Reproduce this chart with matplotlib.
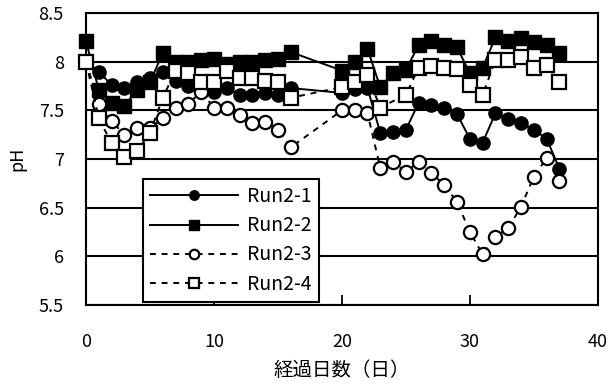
import matplotlib
matplotlib.use("Agg")
import numpy as np
from matplotlib import pyplot as plt

plt.rcParams['font.family'] = ['Noto Sans CJK JP', 'DejaVu Sans']

# --- data ---
days_r1 = [0, 1, 2, 3, 4, 5, 6, 7, 8, 9, 10, 11, 12, 13, 14, 15, 16,
           20, 21, 22, 23, 24, 25, 26, 27, 28, 29, 30, 31, 32, 33, 34, 35, 36, 37]
ph_r1 = [8.0, 7.9, 7.76, 7.73, 7.79, 7.83, 7.9, 7.8, 7.75, 7.7, 7.69, 7.73, 7.66, 7.66, 7.68, 7.66, 7.73,
         7.68, 7.72, 7.73, 7.27, 7.28, 7.3, 7.58, 7.56, 7.52, 7.46, 7.21, 7.17, 7.47, 7.41, 7.37, 7.3, 7.21, 6.9]

days_r2 = [0, 1, 2, 3, 4, 5, 6, 7, 8, 9, 10, 11, 12, 13, 14, 15, 16,
           20, 21, 22, 23, 24, 25, 26, 27, 28, 29, 30, 31, 32, 33, 34, 35, 36, 37]
ph_r2 = [8.21, 7.71, 7.58, 7.55, 7.71, 7.79, 8.09, 8.0, 8.0, 8.02, 8.03, 7.98, 8.0, 8.0, 8.02, 8.03, 8.1,
         7.91, 8.0, 8.13, 7.74, 7.88, 7.92, 8.17, 8.21, 8.17, 8.15, 7.88, 7.94, 8.25, 8.21, 8.24, 8.2, 8.17, 8.09]

days_r3 = [0, 1, 2, 3, 4, 5, 6, 7, 8, 9, 10, 11, 12, 13, 14, 15, 16,
           20, 21, 22, 23, 24, 25, 26, 27, 28, 29, 30, 31, 32, 33, 34, 35, 36, 37]
ph_r3 = [8.0, 7.57, 7.39, 7.25, 7.32, 7.32, 7.42, 7.53, 7.57, 7.69, 7.53, 7.53, 7.45, 7.37, 7.38, 7.3, 7.12,
         7.5, 7.5, 7.47, 6.91, 6.97, 6.87, 6.97, 6.86, 6.73, 6.56, 6.25, 6.02, 6.2, 6.29, 6.51, 6.82, 7.01, 6.77]

days_r4 = [0, 1, 2, 3, 4, 5, 6, 7, 8, 9, 10, 11, 12, 13, 14, 15, 16,
           20, 21, 22, 23, 25, 26, 27, 28, 29, 30, 31, 32, 33, 34, 35, 36, 37]
ph_r4 = [8.0, 7.42, 7.16, 7.02, 7.08, 7.27, 7.63, 7.91, 7.88, 7.79, 7.79, 7.91, 7.83, 7.83, 7.8, 7.79, 7.63,
         7.74, 7.79, 7.86, 7.53, 7.66, 7.94, 7.96, 7.94, 7.93, 7.76, 7.66, 8.02, 8.02, 8.05, 7.94, 7.97, 7.79]

x_ticks = [0, 10, 20, 30, 40]
y_ticks = [5.5, 6, 6.5, 7, 7.5, 8, 8.5]

fig = plt.figure(figsize=(6.1, 3.87), dpi=100)
ax = fig.add_axes([0.141, 0.212, 0.839, 0.754])

dash = (0, (3, 3))
ax.plot(days_r1, ph_r1, color='black', linewidth=1.4, marker='o', markersize=9.5,
        markerfacecolor='black', markeredgecolor='black', label='Run2-1', zorder=3, clip_on=False)
ax.plot(days_r2, ph_r2, color='black', linewidth=1.4, marker='s', markersize=10.5,
        markerfacecolor='black', markeredgecolor='black', label='Run2-2', zorder=3, clip_on=False)
ax.plot(days_r3, ph_r3, color='black', linewidth=1.4, linestyle=dash, marker='o', markersize=9.5,
        markerfacecolor='white', markeredgecolor='black', markeredgewidth=1.6, label='Run2-3',
        zorder=3, clip_on=False)
ax.plot(days_r4, ph_r4, color='black', linewidth=1.4, linestyle=dash, marker='s', markersize=10.5,
        markerfacecolor='white', markeredgecolor='black', markeredgewidth=1.6, label='Run2-4',
        zorder=3, clip_on=False)

ax.set_xlim(0, 40)
ax.set_ylim(5.5, 8.5)
ax.set_xticks(x_ticks)
ax.set_yticks(y_ticks)
ax.set_yticklabels(['5.5', '6', '6.5', '7', '7.5', '8', '8.5'])
ax.yaxis.grid(True, color='black', linewidth=1.5)
ax.set_axisbelow(True)
ax.tick_params(axis='x', direction='in', length=7, width=1.3, pad=20, labelsize=13)
ax.tick_params(axis='y', direction='in', length=0, pad=16, labelsize=13)
for sp in ax.spines.values():
    sp.set_linewidth(1.5)

ax.set_xlabel('経過日数（日）', fontsize=14, labelpad=7)
ax.set_ylabel('pH', fontsize=13, labelpad=9)

leg = ax.legend(loc='lower left', bbox_to_anchor=(0.111, 0.01), fontsize=14,
                handlelength=4.5, handletextpad=0.5, labelspacing=0.42,
                markerscale=0.72, fancybox=False, framealpha=1, edgecolor='black',
                borderpad=0.38, borderaxespad=0)
leg.get_frame().set_linewidth(1.5)
leg.set_zorder(5)

fig.savefig('out.png', dpi=100)
